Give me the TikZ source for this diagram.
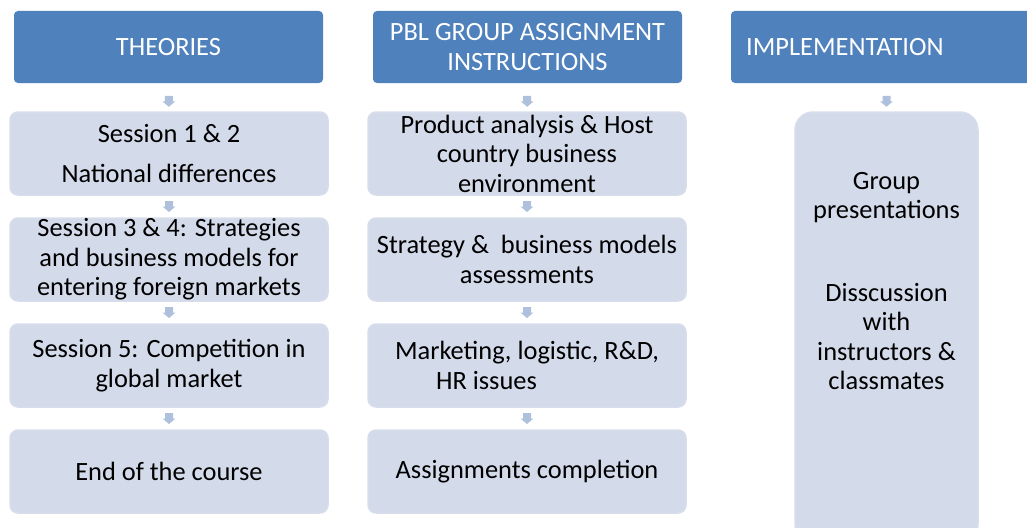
\documentclass[tikz,border=0pt]{standalone}
\usepackage{fontspec}
\setmainfont{Carlito}
\usetikzlibrary{calc}
\definecolor{hdrblue}{HTML}{4F81BD}
\definecolor{boxfill}{HTML}{D3DAEA}
\definecolor{boxedge}{HTML}{D7DDEB}
\definecolor{arrc}{HTML}{AFC0DC}
\tikzset{
  hdr/.style={rectangle, rounded corners=4pt, fill=hdrblue, text=white, inner sep=0pt, outer sep=0pt,
    minimum width=309pt, minimum height=72pt, align=center, font=\fontsize{26.4}{29.5}\selectfont},
  stagebox/.style={rectangle, rounded corners=8pt, fill=boxfill, draw=boxedge, line width=1.5pt, inner sep=0pt, outer sep=0pt,
    minimum width=318pt, minimum height=83pt, align=center, text=black, font=\fontsize{26.4}{29.5}\selectfont},
  txt/.style={inner sep=0pt, text=black, font=\fontsize{26.4}{29.5}\selectfont},
  downarrow/.pic={\fill[arrc] (-4,-5.5) -- (4,-5.5) -- (4,0) -- (6.5,0) -- (0,5.5) -- (-6.5,0) -- (-4,0) -- cycle;}
}
\begin{document}
\begin{tikzpicture}[x=1pt,y=-1pt]
\useasboundingbox (0,0) rectangle (1027,527);
\clip (0,0) rectangle (1027,527);
% headers
\node[hdr] (h1) at (168.5,47) {THEORIES};
\node[hdr] (h2) at (527.5,47) {PBL GROUP ASSIGNMENT\\INSTRUCTIONS};
\node[hdr, minimum width=320pt] (h3) at (891,47) {};
\node[txt, anchor=west, text=white] (t3) at (746,47) {IMPLEMENTATION};
% left column
\node[stagebox] (a1) at (169,153.5) {Session 1 \& 2\\[10.5pt]National differences};
\node[stagebox] (a2) at (169,259.5) {Session 3 \& 4: Strategies\\and business models for\\entering foreign markets};
\node[stagebox] (a3) at (169,365.5) {Session 5: Competition in\\global market};
\node[stagebox] (a4) at (169,471.5) {End of the course};
% middle column
\node[stagebox] (b1) at (527,153.5) {Product analysis \& Host\\country business\\environment};
\node[stagebox] (b2) at (527,259.5) {Strategy \&\ \ business models\\assessments};
\node[stagebox, align=left] (b3) at (527,365.5) {Marketing, logistic, R\&D,\\\hspace*{41pt}HR issues};
\node[stagebox] (b4) at (527,471.5) {Assignments completion};
% right column
\node[stagebox, rounded corners=18pt, minimum width=183pt, minimum height=430pt, anchor=north] (c1) at (886.5,112) {};
\node[txt, align=center] (c1t) at (886.5,281) {Group\\presentations\\[53pt]Disscussion\\with\\instructors \&\\classmates};
% arrows
\path (h1.south) -- pic[pos=0.63] {downarrow} (a1.north);
\path (a1.south) -- pic[pos=0.5] {downarrow} (a2.north);
\path (a2.south) -- pic[pos=0.5] {downarrow} (a3.north);
\path (a3.south) -- pic[pos=0.5] {downarrow} (a4.north);
\path (h2.south) -- pic[pos=0.63] {downarrow} (b1.north);
\path (b1.south) -- pic[pos=0.5] {downarrow} (b2.north);
\path (b2.south) -- pic[pos=0.5] {downarrow} (b3.north);
\path (b3.south) -- pic[pos=0.5] {downarrow} (b4.north);
\path (c1.north |- h3.south) -- pic[pos=0.63] {downarrow} (c1.north);
\end{tikzpicture}
\end{document}
